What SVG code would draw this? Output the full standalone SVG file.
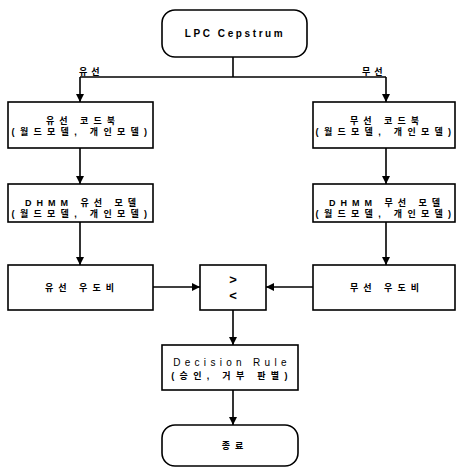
<svg xmlns="http://www.w3.org/2000/svg" width="457" height="468" viewBox="0 0 457 468">
<defs>
<style>
.box{fill:#fff;stroke:#000;stroke-width:1.6}
.ln{fill:none;stroke:#000;stroke-width:1.6}
text{font-family:"Liberation Sans","Noto Sans CJK KR",sans-serif;font-weight:bold;fill:#000;text-anchor:middle}
.k{font-size:9px;letter-spacing:5px}
.k2{font-size:9px;letter-spacing:5.3px}
.lab{font-size:9px;letter-spacing:4px;text-anchor:start}
.lat{font-size:10px;letter-spacing:2.6px}
.dec{font-size:10px;font-weight:normal;letter-spacing:4.3px}
.cmp{font-size:13px}
</style>
<marker id="ah" viewBox="0 0 8 10" refX="8" refY="5" markerWidth="8" markerHeight="10" markerUnits="userSpaceOnUse" orient="auto">
<path d="M0,1 L8,5 L0,9 Z" fill="#000"/>
</marker>
</defs>
<g id="connectors">
<path class="ln" d="M233,57 V77"/>
<path class="ln" d="M80,77 H386"/>
<path class="ln" d="M80,77 V102" marker-end="url(#ah)"/>
<path class="ln" d="M386,77 V102" marker-end="url(#ah)"/>
<path class="ln" d="M80,148 V184" marker-end="url(#ah)"/>
<path class="ln" d="M386,148 V184" marker-end="url(#ah)"/>
<path class="ln" d="M80,222 V265" marker-end="url(#ah)"/>
<path class="ln" d="M386,222 V265" marker-end="url(#ah)"/>
<path class="ln" d="M153,287 H200" marker-end="url(#ah)"/>
<path class="ln" d="M313,287 H266" marker-end="url(#ah)"/>
<path class="ln" d="M233,310 V345" marker-end="url(#ah)"/>
<path class="ln" d="M233,390 V425" marker-end="url(#ah)"/>
<text class="lab" x="79" y="75">유선</text>
<text class="lab" x="362" y="75">무선</text>
</g>
<g id="lpc">
<rect class="box" x="162" y="10" width="145" height="47" rx="13"/>
<text class="lat" x="235" y="37">LPC Cepstrum</text>
</g>
<g id="wired-codebook">
<rect class="box" x="8" y="102" width="145" height="46"/>
<text class="k" x="83" y="124">유선 코드북</text>
<text class="k2" x="82" y="135">(월드모델, 개인모델)</text>
</g>
<g id="wireless-codebook">
<rect class="box" x="313" y="102" width="142" height="46"/>
<text class="k" x="387" y="124">무선 코드북</text>
<text class="k2" x="386" y="135">(월드모델, 개인모델)</text>
</g>
<g id="wired-dhmm">
<rect class="box" x="8" y="184" width="145" height="38"/>
<text class="k" x="83" y="206">DHMM 유선 모델</text>
<text class="k2" x="82" y="217">(월드모델, 개인모델)</text>
</g>
<g id="wireless-dhmm">
<rect class="box" x="313" y="184" width="142" height="38"/>
<text class="k" x="387" y="206">DHMM 무선 모델</text>
<text class="k2" x="386" y="217">(월드모델, 개인모델)</text>
</g>
<g id="wired-ratio">
<rect class="box" x="8" y="265" width="145" height="45"/>
<text class="k" x="82" y="291">유선 우도비</text>
</g>
<g id="compare">
<rect class="box" x="200" y="265" width="66" height="45"/>
<text class="cmp" x="233" y="284">&gt;</text>
<text class="cmp" x="233" y="300">&lt;</text>
</g>
<g id="wireless-ratio">
<rect class="box" x="313" y="265" width="142" height="45"/>
<text class="k" x="387" y="291">무선 우도비</text>
</g>
<g id="decision">
<rect class="box" x="162" y="345" width="136" height="45"/>
<text class="dec" x="232" y="366">Decision Rule</text>
<text class="k2" x="232" y="379">(승인, 거부 판별)</text>
</g>
<g id="end">
<rect class="box" x="162" y="425" width="136" height="41" rx="13"/>
<text class="k" x="235" y="449">종료</text>
</g>
</svg>
